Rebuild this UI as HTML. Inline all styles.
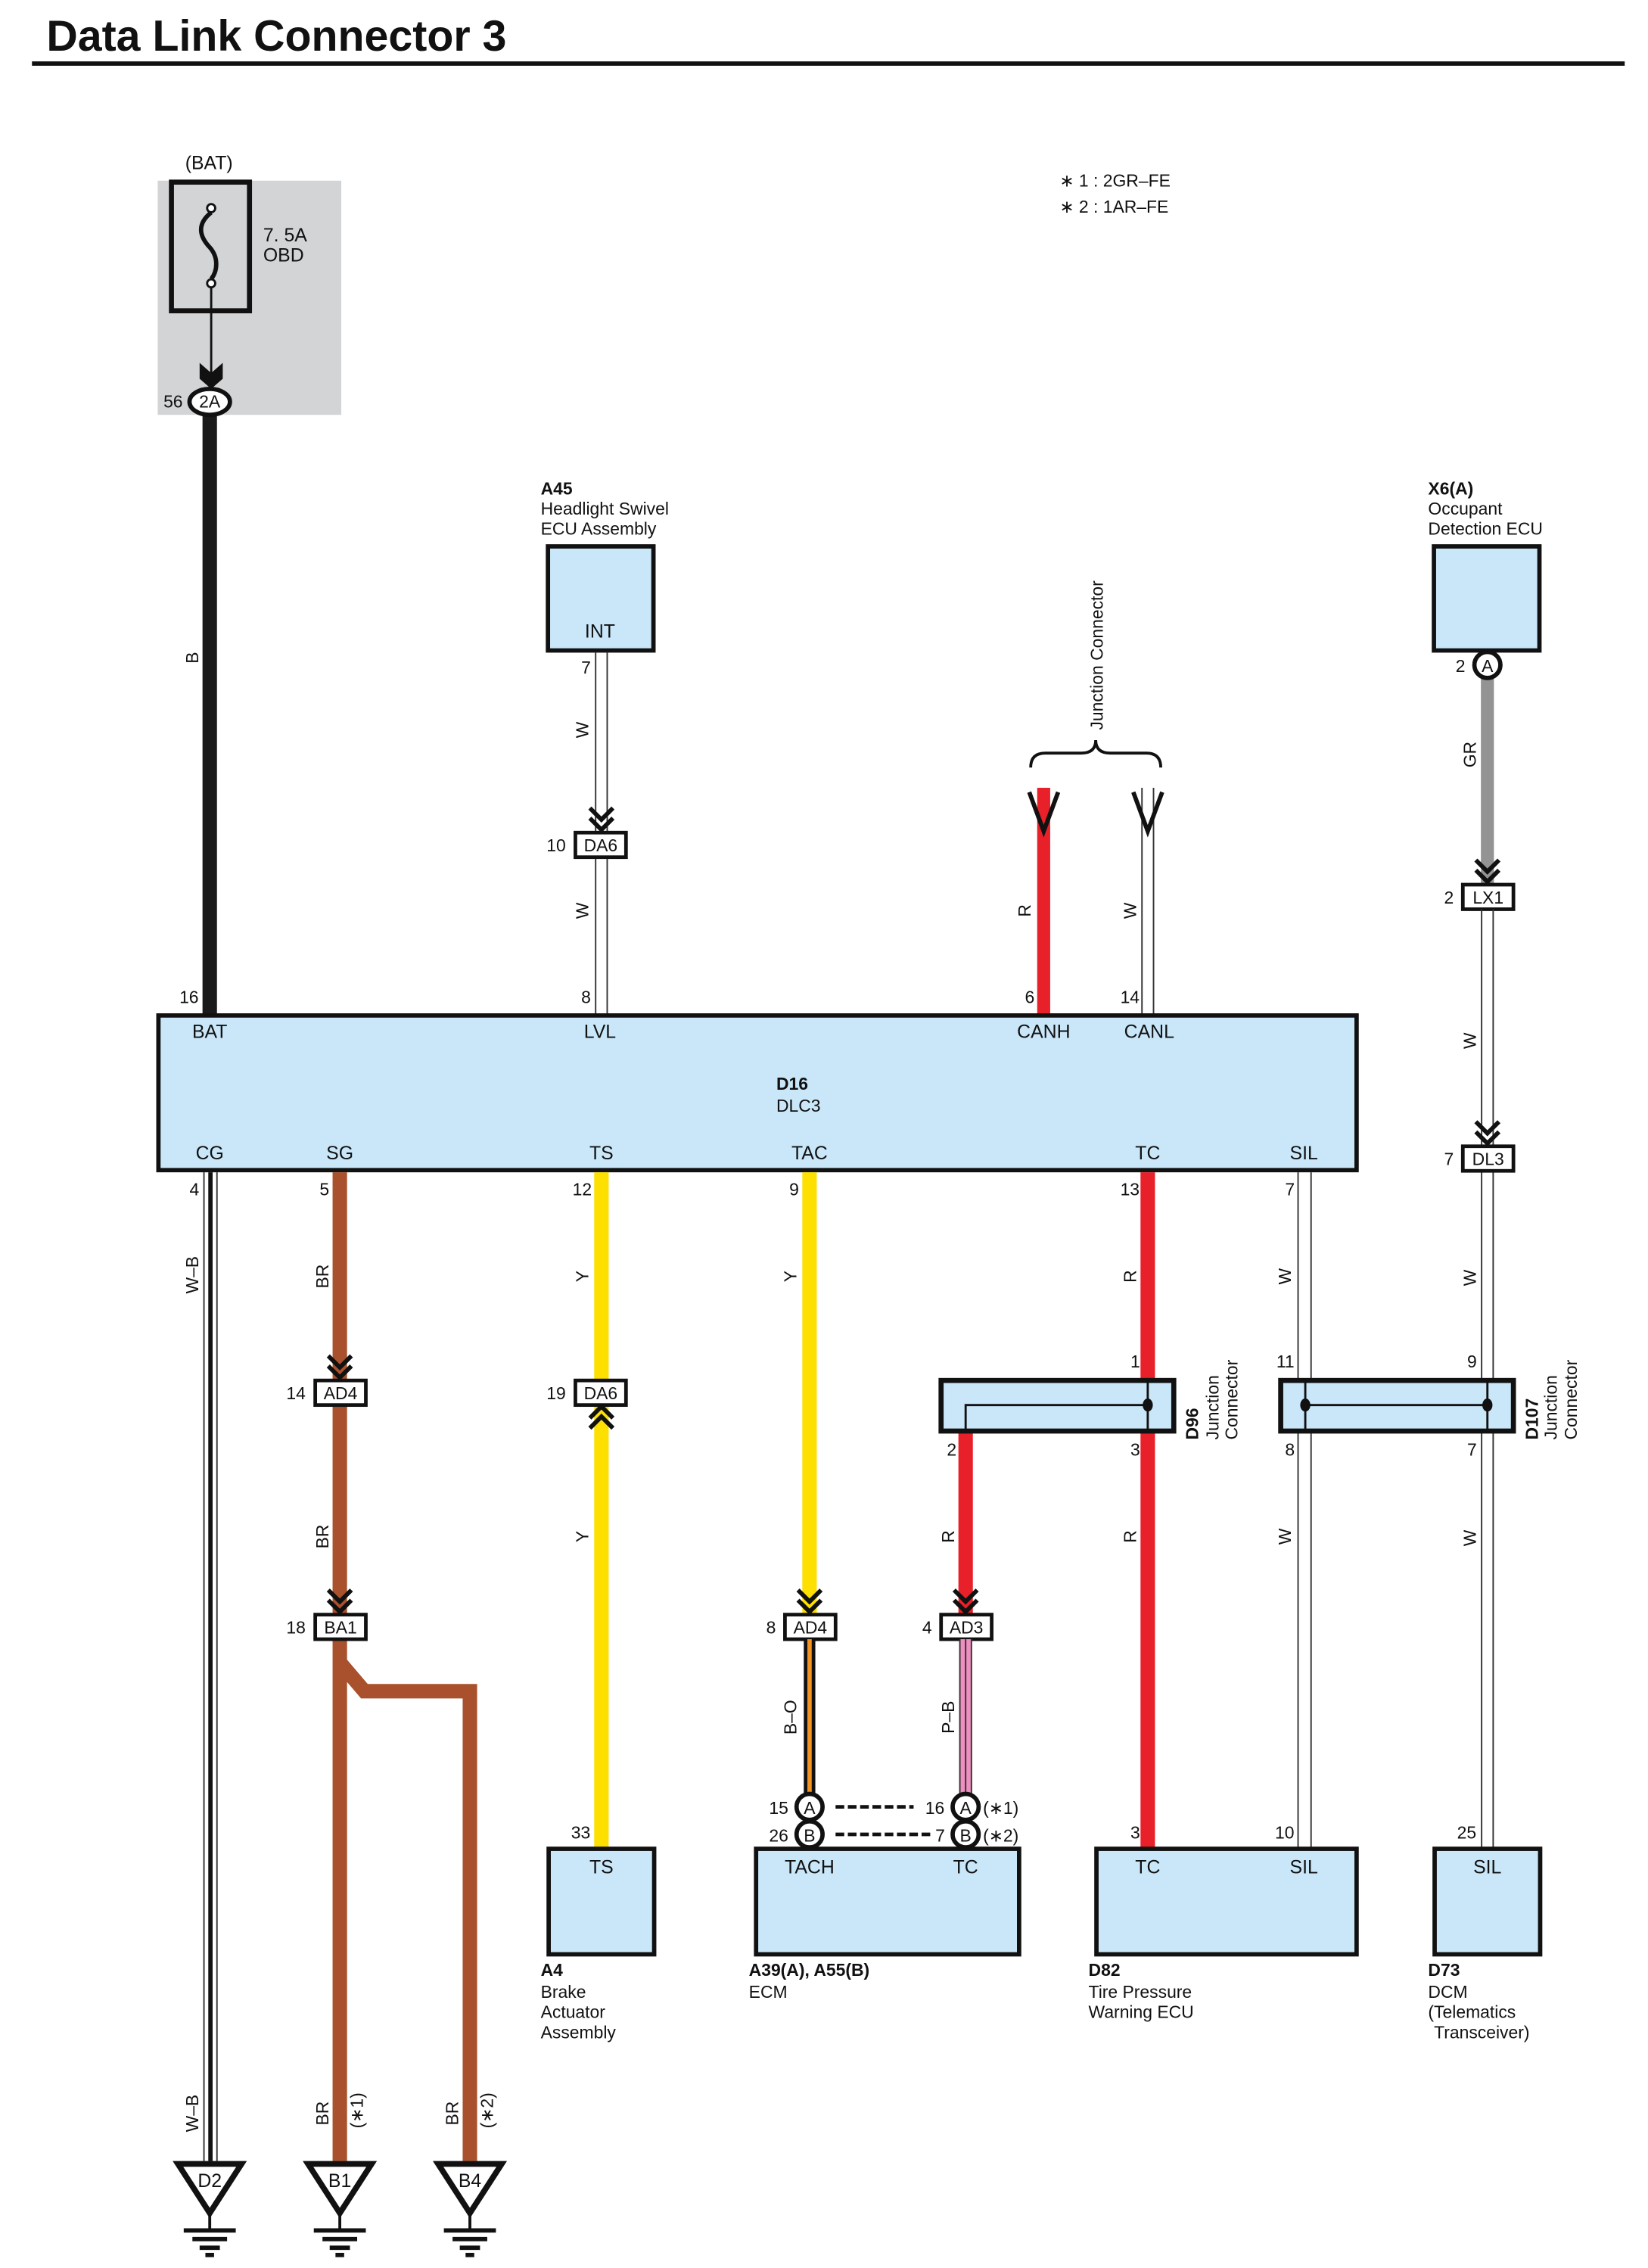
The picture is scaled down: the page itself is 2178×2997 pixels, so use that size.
<!DOCTYPE html>
<html><head><meta charset="utf-8"><style>
html,body{margin:0;padding:0;background:#fff}
svg{display:block}
text{font-family:"Liberation Sans",Arial,sans-serif;font-size:13px;fill:#111}
.b{font-weight:bold}
</style></head><body>
<svg width="2178" height="2997" viewBox="0 0 1140 1569" xmlns="http://www.w3.org/2000/svg">
<defs>
<g id="chev"><polyline points="-8,-16 0,-8 8,-16" fill="none" stroke="#111" stroke-width="3"/><polyline points="-8,-9 0,-1 8,-9" fill="none" stroke="#111" stroke-width="3"/></g>
<g id="chevup"><polyline points="-8,16 0,8 8,16" fill="none" stroke="#111" stroke-width="3"/><polyline points="-8,9 0,1 8,9" fill="none" stroke="#111" stroke-width="3"/></g>
<g id="gnd"><polygon points="-22,0 22,0 0,34" fill="#fff" stroke="#111" stroke-width="4" stroke-linejoin="miter"/><line x1="0" y1="34" x2="0" y2="46" stroke="#111" stroke-width="2"/><line x1="-18" y1="46" x2="18" y2="46" stroke="#111" stroke-width="3"/><line x1="-12" y1="52" x2="12" y2="52" stroke="#111" stroke-width="3"/><line x1="-7" y1="58" x2="7" y2="58" stroke="#111" stroke-width="3"/><line x1="-3" y1="63" x2="3" y2="63" stroke="#111" stroke-width="3"/></g>
</defs>

<!-- title -->
<text x="32" y="35" class="b" style="font-size:30px">Data Link Connector 3</text>
<line x1="22" y1="44" x2="1124" y2="44" stroke="#111" stroke-width="3"/>

<text x="733" y="129" style="font-size:12px">∗ 1 : 2GR–FE</text>
<text x="733" y="147" style="font-size:12px">∗ 2 : 1AR–FE</text>

<!-- fuse -->
<rect x="109" y="125" width="127" height="162" fill="#d3d4d6"/>
<text x="128" y="117">(BAT)</text>
<rect x="118.5" y="126" width="54" height="89" fill="none" stroke="#111" stroke-width="3.5"/>
<circle cx="146" cy="144" r="2.8" fill="#fff" stroke="#111" stroke-width="1.5"/>
<circle cx="146" cy="196" r="2.8" fill="#fff" stroke="#111" stroke-width="1.5"/>
<path d="M146,147 C136,155 138,163 144,170 C152,178 150,188 146,193" fill="none" stroke="#111" stroke-width="3"/>
<line x1="146" y1="199" x2="146" y2="262" stroke="#111" stroke-width="1.5"/>
<polygon points="138,251 146,258 154,251 154,262 146,269 138,262" fill="#111"/>
<text x="182" y="167">7. 5A</text>
<text x="182" y="181">OBD</text>
<line x1="145" y1="282" x2="145" y2="702" stroke="#1a1a1a" stroke-width="10"/>
<ellipse cx="145" cy="278" rx="14" ry="9" fill="#fff" stroke="#111" stroke-width="3"/>
<text x="145" y="282" text-anchor="middle" style="font-size:12px">2A</text>
<text x="113" y="282" style="font-size:12px">56</text>
<text transform="translate(137,455) rotate(-90)" style="font-size:12px" text-anchor="middle">B</text>

<!-- A45 -->
<text x="374" y="342" class="b" style="font-size:12px">A45</text>
<text x="374" y="356" style="font-size:12px">Headlight Swivel</text>
<text x="374" y="370" style="font-size:12px">ECU Assembly</text>
<rect x="379" y="378" width="73" height="72" fill="#c9e7f9" stroke="#111" stroke-width="3"/>
<text x="415" y="441" text-anchor="middle">INT</text>
<line x1="412" y1="451" x2="412" y2="702" stroke="#333" stroke-width="1"/>
<line x1="420" y1="451" x2="420" y2="702" stroke="#333" stroke-width="1"/>
<text x="402" y="466" style="font-size:12px">7</text>
<text transform="translate(407,505) rotate(-90)" text-anchor="middle" style="font-size:12px">W</text>
<use href="#chev" x="416" y="575"/>
<rect x="398" y="576" width="35" height="17" fill="#fff" stroke="#111" stroke-width="2.5"/>
<text x="415.5" y="589" text-anchor="middle" style="font-size:12px">DA6</text>
<text x="378" y="589" style="font-size:12px">10</text>
<text transform="translate(407,630) rotate(-90)" text-anchor="middle" style="font-size:12px">W</text>

<!-- junction connector top -->
<text transform="translate(763,505) rotate(-90)" style="font-size:12px">Junction Connector</text>
<path d="M713,531 Q713,521 723,521 L748,521 Q758,521 758,512 Q758,521 768,521 L793,521 Q803,521 803,531" fill="none" stroke="#111" stroke-width="2"/>
<line x1="722" y1="545" x2="722" y2="702" stroke="#e8202a" stroke-width="9"/>
<polyline points="712,548 722,575 732,548" fill="none" stroke="#111" stroke-width="3"/>
<line x1="790" y1="545" x2="790" y2="702" stroke="#333" stroke-width="1"/>
<line x1="798" y1="545" x2="798" y2="702" stroke="#333" stroke-width="1"/>
<polyline points="784,548 794,575 804,548" fill="none" stroke="#111" stroke-width="3"/>
<text transform="translate(713,630) rotate(-90)" text-anchor="middle" style="font-size:12px">R</text>
<text transform="translate(786,630) rotate(-90)" text-anchor="middle" style="font-size:12px">W</text>

<!-- X6 -->
<text x="988" y="342" class="b" style="font-size:12px">X6(A)</text>
<text x="988" y="356" style="font-size:12px">Occupant</text>
<text x="988" y="370" style="font-size:12px">Detection ECU</text>
<rect x="992" y="378" width="73" height="72" fill="#c9e7f9" stroke="#111" stroke-width="3"/>
<line x1="1029" y1="468" x2="1029" y2="612" stroke="#939393" stroke-width="9"/>
<circle cx="1029" cy="460" r="9" fill="#fff" stroke="#111" stroke-width="3"/>
<text x="1029" y="465" text-anchor="middle" style="font-size:12px">A</text>
<text x="1007" y="465" style="font-size:12px">2</text>
<text transform="translate(1021,522) rotate(-90)" text-anchor="middle" style="font-size:12px">GR</text>
<use href="#chev" x="1029" y="611"/>
<rect x="1012" y="612" width="35" height="17" fill="#fff" stroke="#111" stroke-width="2.5"/>
<text x="1029.5" y="625" text-anchor="middle" style="font-size:12px">LX1</text>
<text x="999" y="625" style="font-size:12px">2</text>
<line x1="1025" y1="629" x2="1025" y2="1278" stroke="#333" stroke-width="1"/>
<line x1="1033" y1="629" x2="1033" y2="1278" stroke="#333" stroke-width="1"/>
<text transform="translate(1021,720) rotate(-90)" text-anchor="middle" style="font-size:12px">W</text>
<use href="#chev" x="1029" y="792"/>
<rect x="1012" y="793" width="35" height="17" fill="#fff" stroke="#111" stroke-width="2.5"/>
<text x="1029.5" y="806" text-anchor="middle" style="font-size:12px">DL3</text>
<text x="999" y="806" style="font-size:12px">7</text>
<text transform="translate(1021,884) rotate(-90)" text-anchor="middle" style="font-size:12px">W</text>
<text x="1015" y="946" style="font-size:12px">9</text>
<text x="1015" y="1007" style="font-size:12px">7</text>
<text transform="translate(1021,1064) rotate(-90)" text-anchor="middle" style="font-size:12px">W</text>

<!-- D16 -->
<rect x="109.5" y="702.5" width="829" height="107" fill="#c9e7f9" stroke="#111" stroke-width="3"/>
<text x="124" y="694" style="font-size:12px">16</text>
<text x="402" y="694" style="font-size:12px">8</text>
<text x="709" y="694" style="font-size:12px">6</text>
<text x="775" y="694" style="font-size:12px">14</text>
<text x="145" y="718" text-anchor="middle">BAT</text>
<text x="415" y="718" text-anchor="middle">LVL</text>
<text x="722" y="718" text-anchor="middle">CANH</text>
<text x="795" y="718" text-anchor="middle">CANL</text>
<text x="537" y="754" class="b" style="font-size:12px">D16</text>
<text x="537" y="769" style="font-size:12px">DLC3</text>
<text x="145" y="802" text-anchor="middle">CG</text>
<text x="235" y="802" text-anchor="middle">SG</text>
<text x="416" y="802" text-anchor="middle">TS</text>
<text x="560" y="802" text-anchor="middle">TAC</text>
<text x="794" y="802" text-anchor="middle">TC</text>
<text x="902" y="802" text-anchor="middle">SIL</text>
<text x="131" y="827" style="font-size:12px">4</text>
<text x="221" y="827" style="font-size:12px">5</text>
<text x="396" y="827" style="font-size:12px">12</text>
<text x="546" y="827" style="font-size:12px">9</text>
<text x="775" y="827" style="font-size:12px">13</text>
<text x="889" y="827" style="font-size:12px">7</text>

<!-- CG -->
<line x1="141" y1="811" x2="141" y2="1495" stroke="#333" stroke-width="1"/>
<line x1="150" y1="811" x2="150" y2="1495" stroke="#333" stroke-width="1"/>
<line x1="145.5" y1="811" x2="145.5" y2="1495" stroke="#111" stroke-width="3"/>
<text transform="translate(137,882) rotate(-90)" text-anchor="middle" style="font-size:12px">W–B</text>
<text transform="translate(137,1462) rotate(-90)" text-anchor="middle" style="font-size:12px">W–B</text>

<!-- SG brown -->
<line x1="235" y1="811" x2="235" y2="955" stroke="#a8512c" stroke-width="10"/>
<line x1="235" y1="971" x2="235" y2="1117" stroke="#a8512c" stroke-width="10"/>
<path d="M235,1134 L235,1495 M235,1150 L252,1170 L325,1170 L325,1495" fill="none" stroke="#a8512c" stroke-width="10"/>
<text transform="translate(227,883) rotate(-90)" text-anchor="middle" style="font-size:12px">BR</text>
<use href="#chev" x="235" y="954"/>
<rect x="218" y="955" width="35" height="17" fill="#fff" stroke="#111" stroke-width="2.5"/>
<text x="235.5" y="968" text-anchor="middle" style="font-size:12px">AD4</text>
<text x="198" y="968" style="font-size:12px">14</text>
<text transform="translate(227,1063) rotate(-90)" text-anchor="middle" style="font-size:12px">BR</text>
<use href="#chev" x="235" y="1116"/>
<rect x="218" y="1117" width="35" height="17" fill="#fff" stroke="#111" stroke-width="2.5"/>
<text x="235.5" y="1130" text-anchor="middle" style="font-size:12px">BA1</text>
<text x="198" y="1130" style="font-size:12px">18</text>
<text transform="translate(227,1462) rotate(-90)" text-anchor="middle" style="font-size:12px">BR</text>
<text transform="translate(251,1460) rotate(-90)" text-anchor="middle" style="font-size:12px">(∗1)</text>
<text transform="translate(317,1462) rotate(-90)" text-anchor="middle" style="font-size:12px">BR</text>
<text transform="translate(341,1460) rotate(-90)" text-anchor="middle" style="font-size:12px">(∗2)</text>

<!-- grounds -->
<use href="#gnd" x="145" y="1497"/>
<use href="#gnd" x="235" y="1497"/>
<use href="#gnd" x="325" y="1497"/>
<text x="145" y="1513" text-anchor="middle">D2</text>
<text x="235" y="1513" text-anchor="middle">B1</text>
<text x="325" y="1513" text-anchor="middle">B4</text>

<!-- TS yellow -->
<line x1="416" y1="811" x2="416" y2="1278" stroke="#fde000" stroke-width="10"/>
<text transform="translate(407,883) rotate(-90)" text-anchor="middle" style="font-size:12px">Y</text>
<rect x="398" y="955" width="35" height="17" fill="#fff" stroke="#111" stroke-width="2.5"/>
<text x="415.5" y="968" text-anchor="middle" style="font-size:12px">DA6</text>
<text x="378" y="968" style="font-size:12px">19</text>
<use href="#chevup" x="416" y="972"/>
<text transform="translate(407,1063) rotate(-90)" text-anchor="middle" style="font-size:12px">Y</text>
<text x="395" y="1272" style="font-size:12px">33</text>

<!-- TAC yellow -->
<line x1="560" y1="811" x2="560" y2="1117" stroke="#fde000" stroke-width="10"/>
<text transform="translate(551,883) rotate(-90)" text-anchor="middle" style="font-size:12px">Y</text>
<use href="#chev" x="560" y="1116"/>
<rect x="543" y="1117" width="35" height="17" fill="#fff" stroke="#111" stroke-width="2.5"/>
<text x="560.5" y="1130" text-anchor="middle" style="font-size:12px">AD4</text>
<text x="530" y="1130" style="font-size:12px">8</text>
<line x1="560" y1="1134" x2="560" y2="1242" stroke="#111" stroke-width="8"/>
<line x1="560" y1="1134" x2="560" y2="1242" stroke="#f39322" stroke-width="3"/>
<text transform="translate(551,1188) rotate(-90)" text-anchor="middle" style="font-size:12px">B–O</text>

<!-- TC red -->
<line x1="794" y1="811" x2="794" y2="1278" stroke="#e8202a" stroke-width="10"/>
<text transform="translate(786,883) rotate(-90)" text-anchor="middle" style="font-size:12px">R</text>
<text x="782" y="946" style="font-size:12px">1</text>
<line x1="668" y1="990" x2="668" y2="1117" stroke="#e8202a" stroke-width="10"/>
<text x="655" y="1007" style="font-size:12px">2</text>
<text x="782" y="1007" style="font-size:12px">3</text>
<text transform="translate(660,1063) rotate(-90)" text-anchor="middle" style="font-size:12px">R</text>
<text transform="translate(786,1063) rotate(-90)" text-anchor="middle" style="font-size:12px">R</text>
<use href="#chev" x="668" y="1116"/>
<rect x="651" y="1117" width="35" height="17" fill="#fff" stroke="#111" stroke-width="2.5"/>
<text x="668.5" y="1130" text-anchor="middle" style="font-size:12px">AD3</text>
<text x="638" y="1130" style="font-size:12px">4</text>
<line x1="668" y1="1134" x2="668" y2="1242" stroke="#333" stroke-width="9"/>
<line x1="668" y1="1134" x2="668" y2="1242" stroke="#ee8fc0" stroke-width="7"/>
<line x1="668" y1="1134" x2="668" y2="1242" stroke="#333" stroke-width="1"/>
<text transform="translate(660,1188) rotate(-90)" text-anchor="middle" style="font-size:12px">P–B</text>

<!-- D96 -->
<rect x="651" y="955" width="161" height="35" fill="#c9e7f9" stroke="#111" stroke-width="3.5"/>
<path d="M668,990 L668,972 L794,972 M794,955 L794,990" fill="none" stroke="#111" stroke-width="1.5"/>
<ellipse cx="794" cy="972" rx="3.5" ry="4.5" fill="#111"/>
<text transform="translate(829,996) rotate(-90)" class="b" style="font-size:12px">D96</text>
<text transform="translate(843,996) rotate(-90)" style="font-size:12px">Junction</text>
<text transform="translate(856,996) rotate(-90)" style="font-size:12px">Connector</text>

<!-- SIL -->
<line x1="898" y1="811" x2="898" y2="1278" stroke="#333" stroke-width="1"/>
<line x1="907" y1="811" x2="907" y2="1278" stroke="#333" stroke-width="1"/>
<text transform="translate(893,883) rotate(-90)" text-anchor="middle" style="font-size:12px">W</text>
<text x="883" y="946" style="font-size:12px">11</text>
<text x="889" y="1007" style="font-size:12px">8</text>
<text transform="translate(893,1063) rotate(-90)" text-anchor="middle" style="font-size:12px">W</text>
<rect x="886" y="955" width="161" height="35" fill="#c9e7f9" stroke="#111" stroke-width="3.5"/>
<path d="M903,955 L903,990 M1029,955 L1029,990 M903,972 L1029,972" fill="none" stroke="#111" stroke-width="1.5"/>
<ellipse cx="903" cy="972" rx="3.5" ry="4.5" fill="#111"/>
<ellipse cx="1029" cy="972" rx="3.5" ry="4.5" fill="#111"/>
<text transform="translate(1064,996) rotate(-90)" class="b" style="font-size:12px">D107</text>
<text transform="translate(1077,996) rotate(-90)" style="font-size:12px">Junction</text>
<text transform="translate(1091,996) rotate(-90)" style="font-size:12px">Connector</text>

<!-- ECM connectors -->
<circle cx="560" cy="1250" r="9" fill="#fff" stroke="#111" stroke-width="3"/>
<circle cx="560" cy="1269" r="9" fill="#fff" stroke="#111" stroke-width="3"/>
<text x="560" y="1255" text-anchor="middle" style="font-size:12px">A</text>
<text x="560" y="1274" text-anchor="middle" style="font-size:12px">B</text>
<circle cx="668" cy="1250" r="9" fill="#fff" stroke="#111" stroke-width="3"/>
<circle cx="668" cy="1269" r="9" fill="#fff" stroke="#111" stroke-width="3"/>
<text x="668" y="1255" text-anchor="middle" style="font-size:12px">A</text>
<text x="668" y="1274" text-anchor="middle" style="font-size:12px">B</text>
<text x="532" y="1255" style="font-size:12px">15</text>
<text x="532" y="1274" style="font-size:12px">26</text>
<text x="640" y="1255" style="font-size:12px">16</text>
<text x="647" y="1274" style="font-size:12px">7</text>
<text x="680" y="1255" style="font-size:12px">(∗1)</text>
<text x="680" y="1274" style="font-size:12px">(∗2)</text>
<line x1="578" y1="1250" x2="632" y2="1250" stroke="#111" stroke-width="2.5" stroke-dasharray="6,2.5"/>
<line x1="578" y1="1269" x2="644" y2="1269" stroke="#111" stroke-width="2.5" stroke-dasharray="6,2.5"/>

<!-- bottom boxes -->
<rect x="379.5" y="1279" width="73" height="73" fill="#c9e7f9" stroke="#111" stroke-width="3"/>
<text x="416" y="1296" text-anchor="middle">TS</text>
<text x="374" y="1367" class="b" style="font-size:12px">A4</text>
<text x="374" y="1382" style="font-size:12px">Brake</text>
<text x="374" y="1396" style="font-size:12px">Actuator</text>
<text x="374" y="1410" style="font-size:12px">Assembly</text>

<rect x="523" y="1279" width="182" height="73" fill="#c9e7f9" stroke="#111" stroke-width="3"/>
<text x="560" y="1296" text-anchor="middle">TACH</text>
<text x="668" y="1296" text-anchor="middle">TC</text>
<text x="518" y="1367" class="b" style="font-size:12px">A39(A), A55(B)</text>
<text x="518" y="1382" style="font-size:12px">ECM</text>

<text x="782" y="1272" style="font-size:12px">3</text>
<text x="882" y="1272" style="font-size:12px">10</text>
<text x="1008" y="1272" style="font-size:12px">25</text>
<rect x="758.5" y="1279" width="180" height="73" fill="#c9e7f9" stroke="#111" stroke-width="3"/>
<text x="794" y="1296" text-anchor="middle">TC</text>
<text x="902" y="1296" text-anchor="middle">SIL</text>
<text x="753" y="1367" class="b" style="font-size:12px">D82</text>
<text x="753" y="1382" style="font-size:12px">Tire Pressure</text>
<text x="753" y="1396" style="font-size:12px">Warning ECU</text>

<rect x="992.5" y="1279" width="73" height="73" fill="#c9e7f9" stroke="#111" stroke-width="3"/>
<text x="1029" y="1296" text-anchor="middle">SIL</text>
<text x="988" y="1367" class="b" style="font-size:12px">D73</text>
<text x="988" y="1382" style="font-size:12px">DCM</text>
<text x="988" y="1396" style="font-size:12px">(Telematics</text>
<text x="992" y="1410" style="font-size:12px">Transceiver)</text>
</svg>
</body></html>
